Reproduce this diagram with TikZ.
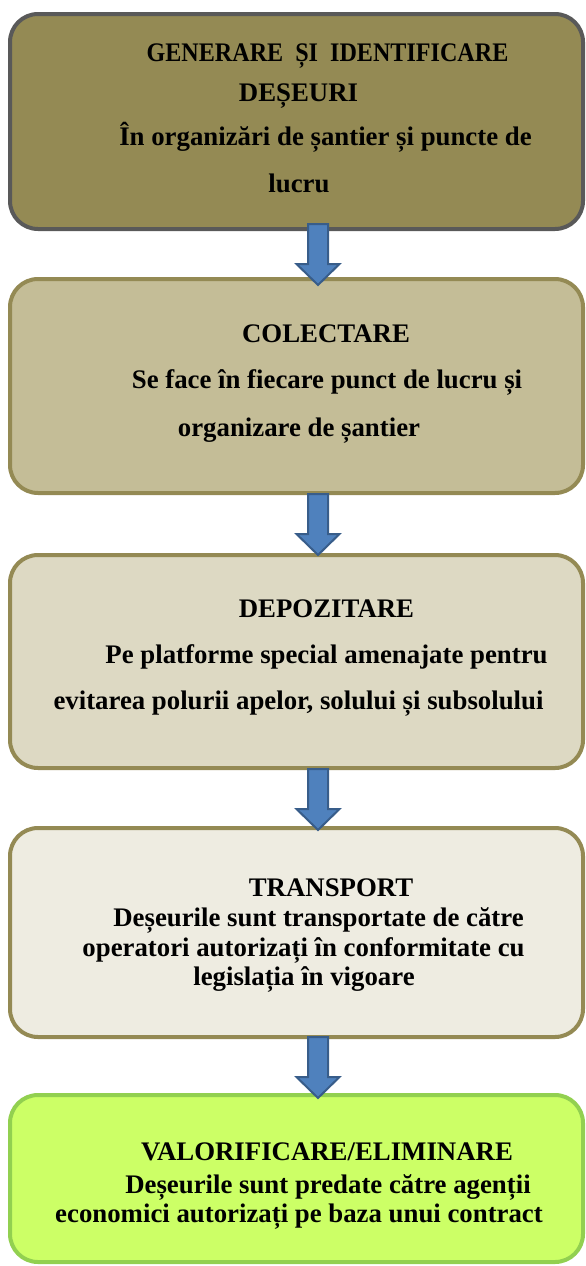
\documentclass[tikz,border=0pt]{standalone}
\usepackage{fontspec}
\setmainfont{Liberation Serif}
\usetikzlibrary{calc}
\definecolor{f1}{HTML}{948A54}
\definecolor{d1}{HTML}{595959}
\definecolor{f2}{HTML}{C4BD97}
\definecolor{f3}{HTML}{DDD9C3}
\definecolor{f4}{HTML}{EEECE1}
\definecolor{f5}{HTML}{CCFF66}
\definecolor{d5}{HTML}{92D050}
\definecolor{af}{HTML}{4F81BD}
\definecolor{ad}{HTML}{385D8A}
\begin{document}
\begin{tikzpicture}[x=1pt,y=-1pt,
  box/.style={draw=f1, line width=4pt, rounded corners=28pt, minimum width=573pt, inner sep=0pt},
  txt/.style={anchor=base, inner sep=0pt, font=\bfseries\fontsize{26.8}{30}\selectfont},
  blk/.style={fill=af, draw=ad, line width=2pt, line join=miter},
  downarrow/.pic={\draw[blk] (-10,0) -- (-10,40) -- (-21.5,40) -- (0,61) -- (21.5,40) -- (10,40) -- (10,0) -- cycle;}
]
\useasboundingbox (0,0) rectangle (586,1266);
% boxes
\node[box, draw=d1, fill=f1, minimum height=215pt] (b1) at (296.5,121.5) {};
\node[box, fill=f2, minimum height=214pt] (b2) at (296.5,386) {};
\node[box, fill=f3, minimum height=213pt] (b3) at (296.5,661.5) {};
\node[box, fill=f4, minimum height=209pt] (b4) at (296.5,932.5) {};
\node[box, draw=d5, fill=f5, minimum height=167pt] (b5) at (296.5,1178.5) {};
% texts
\node[txt] (t1a) at (327.5,61) {\scalebox{0.9}[1]{GENERARE \ ȘI \ IDENTIFICARE}};
\node[txt] (t1b) at (298.5,101) {DEȘEURI};
\node[txt] (t1c) at (325.5,145) {În organizări de șantier și puncte de};
\node[txt] (t1d) at (299,192) {lucru};
\node[txt] (t2a) at (326,342) {COLECTARE};
\node[txt] (t2b) at (327,388) {Se face în fiecare punct de lucru și};
\node[txt] (t2c) at (299,436) {organizare de șantier};
\node[txt] (t3a) at (326.5,617) {DEPOZITARE};
\node[txt] (t3b) at (326.5,663) {Pe platforme special amenajate pentru};
\node[txt] (t3c) at (298.5,709) {evitarea polurii apelor, solului și subsolului};
\node[txt] (t4a) at (331,896) {TRANSPORT};
\node[txt] (t4b) at (318.5,926) {Deșeurile sunt transportate de către};
\node[txt] (t4c) at (303.5,956) {operatori autorizați în conformitate cu};
\node[txt] (t4d) at (304,985) {legislația în vigoare};
\node[txt] (t5a) at (327,1160) {VALORIFICARE/ELIMINARE};
\node[txt] (t5b) at (328,1193) {Deșeurile sunt predate către agenții};
\node[txt] (t5c) at (299,1222) {economici autorizați pe baza unui contract};
% arrows
\pic at ($(b1.south)+(21.5,-7)$) {downarrow};
\pic at ($(b2.south)+(21.5,-1)$) {downarrow};
\pic at ($(b3.south)+(21.5,-1)$) {downarrow};
\pic at ($(b4.south)+(21.5,-2)$) {downarrow};
\end{tikzpicture}
\end{document}
